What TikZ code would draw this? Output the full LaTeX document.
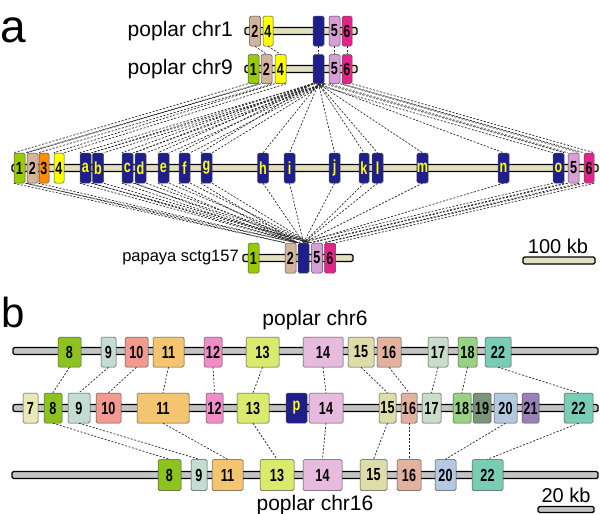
\documentclass[tikz,border=0pt]{standalone}
\usepackage{fontspec}
\setmainfont{Liberation Sans}
\newfontfamily\genefont[FakeStretch=0.72]{Liberation Sans}
\definecolor{gA1}{HTML}{99CC00}
\definecolor{gA2}{HTML}{D2B49C}
\definecolor{gA3}{HTML}{FF8C00}
\definecolor{gA4}{HTML}{FFFF00}
\definecolor{gBlue}{HTML}{1E1E8C}
\definecolor{gA5}{HTML}{D79ED7}
\definecolor{gA6}{HTML}{E6228C}
\definecolor{barA}{HTML}{E3E0BE}
\definecolor{barB}{HTML}{C4C4C4}
\definecolor{b7}{HTML}{E9E9B5}
\definecolor{b8}{HTML}{8CC31E}
\definecolor{b9}{HTML}{C5DCD3}
\definecolor{b10}{HTML}{F29A8F}
\definecolor{b11}{HTML}{F3C56F}
\definecolor{b12}{HTML}{F08DC8}
\definecolor{b13}{HTML}{D9EA6C}
\definecolor{b14}{HTML}{E6BBDD}
\definecolor{b15}{HTML}{DCDDA9}
\definecolor{b16}{HTML}{E2B29F}
\definecolor{b17}{HTML}{CADCCA}
\definecolor{b18}{HTML}{98D283}
\definecolor{b19}{HTML}{7A957A}
\definecolor{b20}{HTML}{B3C9E2}
\definecolor{b21}{HTML}{9A80B9}
\definecolor{b22}{HTML}{79CDB5}
\tikzset{
  gene/.style={rectangle, rounded corners=1.6pt, draw=black!70, line width=0.5pt,
    inner sep=0pt, minimum height=30, minimum width=11,
    font=\genefont\bfseries\fontsize{17.5}{17.5}\selectfont},
  bluegene/.style={gene, fill=gBlue, text=gA4},
  chrbar/.style={rectangle, draw=black, line width=1.4pt, rounded corners=1.5pt,
    inner sep=0pt, minimum height=7},
  link/.style={draw=black!85, line width=0.7pt, dash pattern=on 2pt off 1.6pt},
  label/.style={inner sep=0pt, font=\fontsize{21}{21}\selectfont},
  panel/.style={inner sep=0pt, anchor=base west}
}
\newcommand\pairlink[2]{\draw[link] (#1.south west) -- (#2.north west);
  \draw[link] (#1.south east) -- (#2.north east);}
\newcommand\onelink[2]{\draw[link] (#1.south) -- (#2.north);}
\begin{document}
\begin{tikzpicture}[x=1pt,y=-1pt]
\useasboundingbox (0,0) rectangle (600,514);
% ---------------- panel a ----------------
\node[panel, font=\fontsize{46}{46}\selectfont] (pa) at (0,42) {a};
\node[label, anchor=east] (l1) at (233,31) {poplar chr1};
\node[label, anchor=east] (l9) at (233,69) {poplar chr9};
\node[label, anchor=east, font=\fontsize{16.5}{16.5}\selectfont] (lp) at (239,258) {papaya sctg157};
% bars
\node[chrbar, fill=barA, minimum width=112] (bar1) at (301,31) {};
\node[chrbar, fill=barA, minimum width=112] (bar9) at (301,69) {};
\node[chrbar, fill=barA, minimum width=586] (barB) at (305,168) {};
\node[chrbar, fill=barA, minimum width=110] (barP) at (298,258) {};
% chr1
\node[gene, fill=gA2] (c1n2) at (255,31) {2};
\node[gene, fill=gA4, minimum width=10] (c1n4) at (268,31) {4};
\node[bluegene] (c1b) at (318.5,31) {};
\node[gene, fill=gA5] (c1n5) at (334.5,31) {5};
\node[gene, fill=gA6, minimum width=10] (c1n6) at (347,31) {6};
% chr9
\node[gene, fill=gA1, minimum height=29] (c9n1) at (253.5,69) {1};
\node[gene, fill=gA2, minimum height=29] (c9n2) at (266.5,69) {2};
\node[gene, fill=gA4, minimum height=29] (c9n4) at (280.5,69) {4};
\node[bluegene, minimum height=29] (c9b) at (318.5,69) {};
\node[gene, fill=gA5, minimum height=29] (c9n5) at (334.5,69) {5};
\node[gene, fill=gA6, minimum height=29, minimum width=10] (c9n6) at (347,69) {6};
% big chromosome
\node[gene, fill=gA1] (B1) at (19.5,168) {1};
\node[gene, fill=gA2] (B2) at (32.5,168) {2};
\node[gene, fill=gA3, minimum width=10] (B3) at (44,168) {3};
\node[gene, fill=gA4, minimum width=10] (B4) at (59,168) {4};
\node[bluegene] (Ba) at (85.5,168) {a};
\node[bluegene] (Bb) at (98,168) {b};
\node[bluegene] (Bc) at (127.5,168) {c};
\node[bluegene] (Bd) at (140.5,168) {d};
\node[bluegene] (Be) at (163.5,168) {e};
\node[bluegene] (Bf) at (184.5,168) {f};
\node[bluegene] (Bg) at (206.5,168) {g};
\node[bluegene] (Bh) at (263,168) {h};
\node[bluegene] (Bi) at (289.5,168) {i};
\node[bluegene] (Bj) at (334.5,168) {j};
\node[bluegene, minimum width=10] (Bk) at (364,168) {k};
\node[bluegene] (Bl) at (377.5,168) {l};
\node[bluegene] (Bm) at (422.5,168) {m};
\node[bluegene] (Bn) at (503.5,168) {n};
\node[bluegene] (Bo) at (558.5,168) {o};
\node[gene, fill=gA5] (B5) at (573.5,168) {5};
\node[gene, fill=gA6, minimum width=10] (B6) at (589,168) {6};
% papaya
\node[gene, fill=gA1] (P1) at (253.5,258) {1};
\node[gene, fill=gA2] (P2) at (290.5,258) {2};
\node[bluegene] (Pb) at (303.5,258) {};
\node[gene, fill=gA5] (P5) at (317,258) {5};
\node[gene, fill=gA6] (P6) at (330,258) {6};
% scale bar a
\node[label, anchor=base, font=\fontsize{20}{20}\selectfont] (sa) at (558,253) {100 kb};
\node[chrbar, fill=barA, minimum width=72] (sbarA) at (559,260.5) {};
% links chr1 - chr9
\onelink{c1n2}{c9n2}
\onelink{c1n4}{c9n4}
\onelink{c1b}{c9b}
\onelink{c1n5}{c9n5}
\onelink{c1n6}{c9n6}
% links chr9 - big
\pairlink{c9n1}{B1}
\pairlink{c9n2}{B2}
\pairlink{c9n4}{B4}
\foreach \g in {a,b,c,d,e,f,g,o}{\pairlink{c9b}{B\g}}
\foreach \g in {h,i,j,k,l,m,n}{\onelink{c9b}{B\g}}
\pairlink{c9n5}{B5}
\pairlink{c9n6}{B6}
% links big - papaya
\pairlink{B1}{P2}
\pairlink{B2}{P2}
\foreach \g in {a,b,c,d,e,f,g,o}{\pairlink{B\g}{Pb}}
\foreach \g in {h,i,j,k,l,m,n}{\onelink{B\g}{Pb}}
\pairlink{B5}{P5}
\pairlink{B6}{P6}
% ---------------- panel b ----------------
\node[panel, font=\fontsize{42}{42}\selectfont] (pb) at (1,327) {b};
\node[label] (l6) at (315,320) {poplar chr6};
\node[label] (l16) at (315,505) {poplar chr16};
\node[chrbar, fill=barB, minimum width=585] (barT) at (305.5,351) {};
\node[chrbar, fill=barB, minimum width=585] (barM) at (305.5,408) {};
\node[chrbar, fill=barB, minimum width=586] (barL) at (305,475) {};
% top row chr6
\node[gene, fill=b8,  minimum width=23] (T8)  at (69.5,352) {8};
\node[gene, fill=b9,  minimum width=15] (T9)  at (108.5,352) {9};
\node[gene, fill=b10, minimum width=23] (T10) at (136.5,352) {10};
\node[gene, fill=b11, minimum width=31] (T11) at (168.5,352) {11};
\node[gene, fill=b12, minimum width=18] (T12) at (213,352) {12};
\node[gene, fill=b13, minimum width=33] (T13) at (262.5,352) {13};
\node[gene, fill=b14, minimum width=40] (T14) at (323,352) {14};
\node[gene, fill=b15, minimum width=26] (T15) at (361,352) {15};
\node[gene, fill=b16, minimum width=24] (T16) at (389,352) {16};
\node[gene, fill=b17, minimum width=20] (T17) at (438,352) {17};
\node[gene, fill=b18, minimum width=19] (T18) at (467.5,352) {18};
\node[gene, fill=b22, minimum width=26] (T22) at (498,352) {22};
% middle row
\node[gene, fill=b7,  minimum width=15] (M7)  at (30.5,408) {7};
\node[gene, fill=b8,  minimum width=18] (M8)  at (53,408) {8};
\node[gene, fill=b9,  minimum width=22] (M9)  at (79,408) {9};
\node[gene, fill=b10, minimum width=25] (M10) at (108.5,408) {10};
\node[gene, fill=b11, minimum width=52] (M11) at (163,408) {11};
\node[gene, fill=b12, minimum width=17] (M12) at (214.5,408) {12};
\node[gene, fill=b13, minimum width=32] (M13) at (253,408) {13};
\node[bluegene, minimum width=21] (Mp) at (296.5,408) {p};
\node[gene, fill=b14, minimum width=34] (M14) at (326,408) {14};
\node[gene, fill=b15, minimum width=17] (M15) at (387.5,408) {15};
\node[gene, fill=b16, minimum width=16] (M16) at (409,408) {16};
\node[gene, fill=b17, minimum width=19] (M17) at (431.5,408) {17};
\node[gene, fill=b18, minimum width=18] (M18) at (462,408) {18};
\node[gene, fill=b19, minimum width=18] (M19) at (482,408) {19};
\node[gene, fill=b20, minimum width=23] (M20) at (505.5,408) {20};
\node[gene, fill=b21, minimum width=17] (M21) at (530.5,408) {21};
\node[gene, fill=b22, minimum width=29] (M22) at (578.5,408) {22};
% bottom row chr16
\node[gene, fill=b8,  minimum width=23, minimum height=31] (L8)  at (169.5,475) {8};
\node[gene, fill=b9,  minimum width=16, minimum height=31] (L9)  at (199,475) {9};
\node[gene, fill=b11, minimum width=31, minimum height=31] (L11) at (227.5,475) {11};
\node[gene, fill=b13, minimum width=34, minimum height=31] (L13) at (277,475) {13};
\node[gene, fill=b14, minimum width=39, minimum height=31] (L14) at (322.5,475) {14};
\node[gene, fill=b15, minimum width=27, minimum height=31] (L15) at (373.5,475) {15};
\node[gene, fill=b16, minimum width=24, minimum height=31] (L16) at (409,475) {16};
\node[gene, fill=b20, minimum width=21, minimum height=31] (L20) at (445.5,475) {20};
\node[gene, fill=b22, minimum width=31, minimum height=31] (L22) at (487.5,475) {22};
% scale bar b
\node[label, font=\fontsize{20}{20}\selectfont] (sb) at (566,495) {20 kb};
\node[chrbar, fill=barB, minimum width=56, minimum height=6] (sbarB) at (566,509.5) {};
% links chr6 - middle
\foreach \g in {8,9,10,11,12,13,14,15,16,17,18,22}{\onelink{T\g}{M\g}}
% links middle - chr16
\foreach \g in {8,9,11,13,14,15,16,20,22}{\onelink{M\g}{L\g}}
\end{tikzpicture}
\end{document}
